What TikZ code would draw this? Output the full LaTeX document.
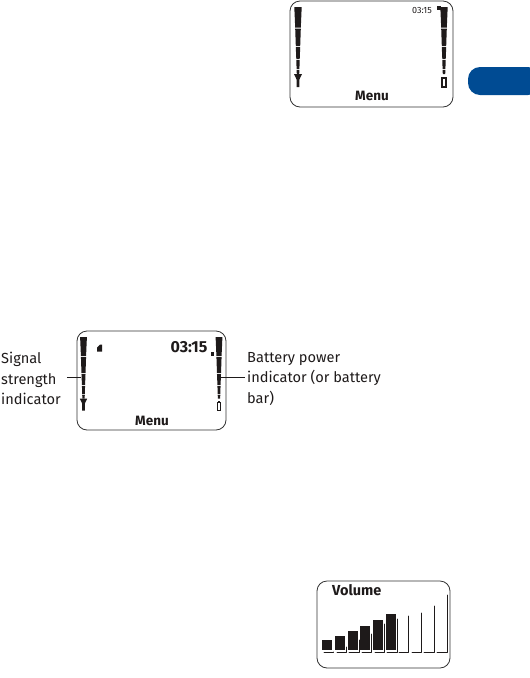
\documentclass[tikz,border=0pt]{standalone}
\usepackage{fontspec}
\setmainfont{Fira Sans}
\usepackage{xcolor}
\usetikzlibrary{positioning,calc}
\definecolor{tabblue}{HTML}{004B93}
\definecolor{frameink}{HTML}{333333}
\definecolor{lcdink}{HTML}{1E1A1A}
\tikzset{
  screen/.style={draw=frameink, line width=0.8pt, rounded corners=10pt},
  lcdline/.style={draw=lcdink, line width=0.9pt},
  menulabel/.style={inner sep=0pt, font=\fontsize{13.5}{13.5}\selectfont\bfseries, text=lcdink},
  caption/.style={inner sep=0pt, align=left, text=lcdink, font=\fontsize{14.6}{20.5}\selectfont},
  leader/.style={draw=lcdink, line width=0.7pt},
  pics/barstack/.style={code={
    \foreach \ya/\yb/\wa/\wb in {0/20.5/7.4/5.6,21.5/39/5.6/4.4,40/52/4.4/3.4,53/62/3.4/2.8,63/67/2.8/2.4}{
      \fill[lcdink] (-\wa/2,\ya) -- (\wa/2,\ya) -- (\wb/2,\yb) -- (-\wb/2,\yb) -- cycle;}
  }},
  pics/aerial/.style={code={
    \fill[lcdink] (-4,67) -- (4,67) -- (1.4,72.5) -- (1.4,80) -- (-1.4,80) -- (-1.4,72.5) -- cycle;
  }},
  pics/cell/.style={code={
    \draw[lcdline, line width=1.2pt] (-2,71) rectangle (2,80);
    \fill[lcdink] (-1,69.5) rectangle (1,71);
  }}
}
\begin{document}
\begin{tikzpicture}[x=1pt,y=-1pt]
  \useasboundingbox (0,0) rectangle (530,678);
  % section tab at the page edge
  \fill[tabblue, rounded corners=12pt] (540,67) -- (468,67) -- (468,95) -- (540,95) -- cycle;

  % top screen
  \draw[screen] (290,1) rectangle (453,107);
  \pic at (298,7) {barstack};
  \pic at (298,7) {aerial};
  \pic at (444,7) {barstack};
  \pic at (444,7) {cell};
  \node[inner sep=0pt, font=\fontsize{9}{9}\selectfont, text=lcdink] (topclock) at (422,10) {03:15};
  \fill[lcdink] (437,6) rectangle (440.5,9.5);
  \node[menulabel] (topmenu) at (372,96) {Menu};

  % middle screen
  \draw[screen] (77,331) rectangle (226,430);
  \pic[scale=0.92] at (83.5,337) {barstack};
  \pic[scale=0.92] at (83.5,337) {aerial};
  \pic[scale=0.92] at (219,337) {barstack};
  \pic[scale=0.92] at (219,337) {cell};
  \fill[lcdink] (97,347.5) -- (100,344.5) -- (102,344.5) -- (102,351.5) -- (97,351.5) -- cycle;
  \node[inner sep=0pt, font=\fontsize{16}{16}\selectfont\bfseries, text=lcdink] (midclock) at (189,347.5) {03:15};
  \fill[lcdink] (210.5,352) rectangle (214,355.5);
  \node[menulabel] (midmenu) at (152,421) {Menu};
  \node[caption, anchor=north west] (signallabel) at (1,352) {Signal\\strength\\indicator};
  \node[caption, anchor=north west] (batterylabel) at (247,352) {Battery power\\indicator (or battery\\bar)};
  \coordinate (signalbar) at (81,377);
  \coordinate (batterybar) at (221,377);
  \draw[leader, shorten <=6pt] (signallabel.east |- signalbar) -- (signalbar);
  \draw[leader, shorten >=2pt] (batterybar) -- (batterylabel.west |- batterybar);

  % volume screen
  \draw[screen] (317,581) rectangle (450,668);
  \node[inner sep=0pt, font=\fontsize{14.5}{14.5}\selectfont\bfseries, text=lcdink, anchor=west] (volumetitle) at (332,590) {Volume};
  \foreach \xa/\ytop in {322/640,335/636,348/631,360/626,373/620,386/614}{
    \fill[lcdink] (\xa,\ytop) rectangle ++(10,650-\ytop);}
  \foreach \xa/\xb/\ytop in {324/333/652,337/346/647,349/359/640,362/371/634,375/384/624,387/397/619,399/408/616,412/421/613,424/434/606,437/447/595}{
    \draw[lcdline, line cap=round, line join=round] (\xa,652.5) -- (\xb,652.5) -- (\xb,\ytop);}
\end{tikzpicture}
\end{document}
